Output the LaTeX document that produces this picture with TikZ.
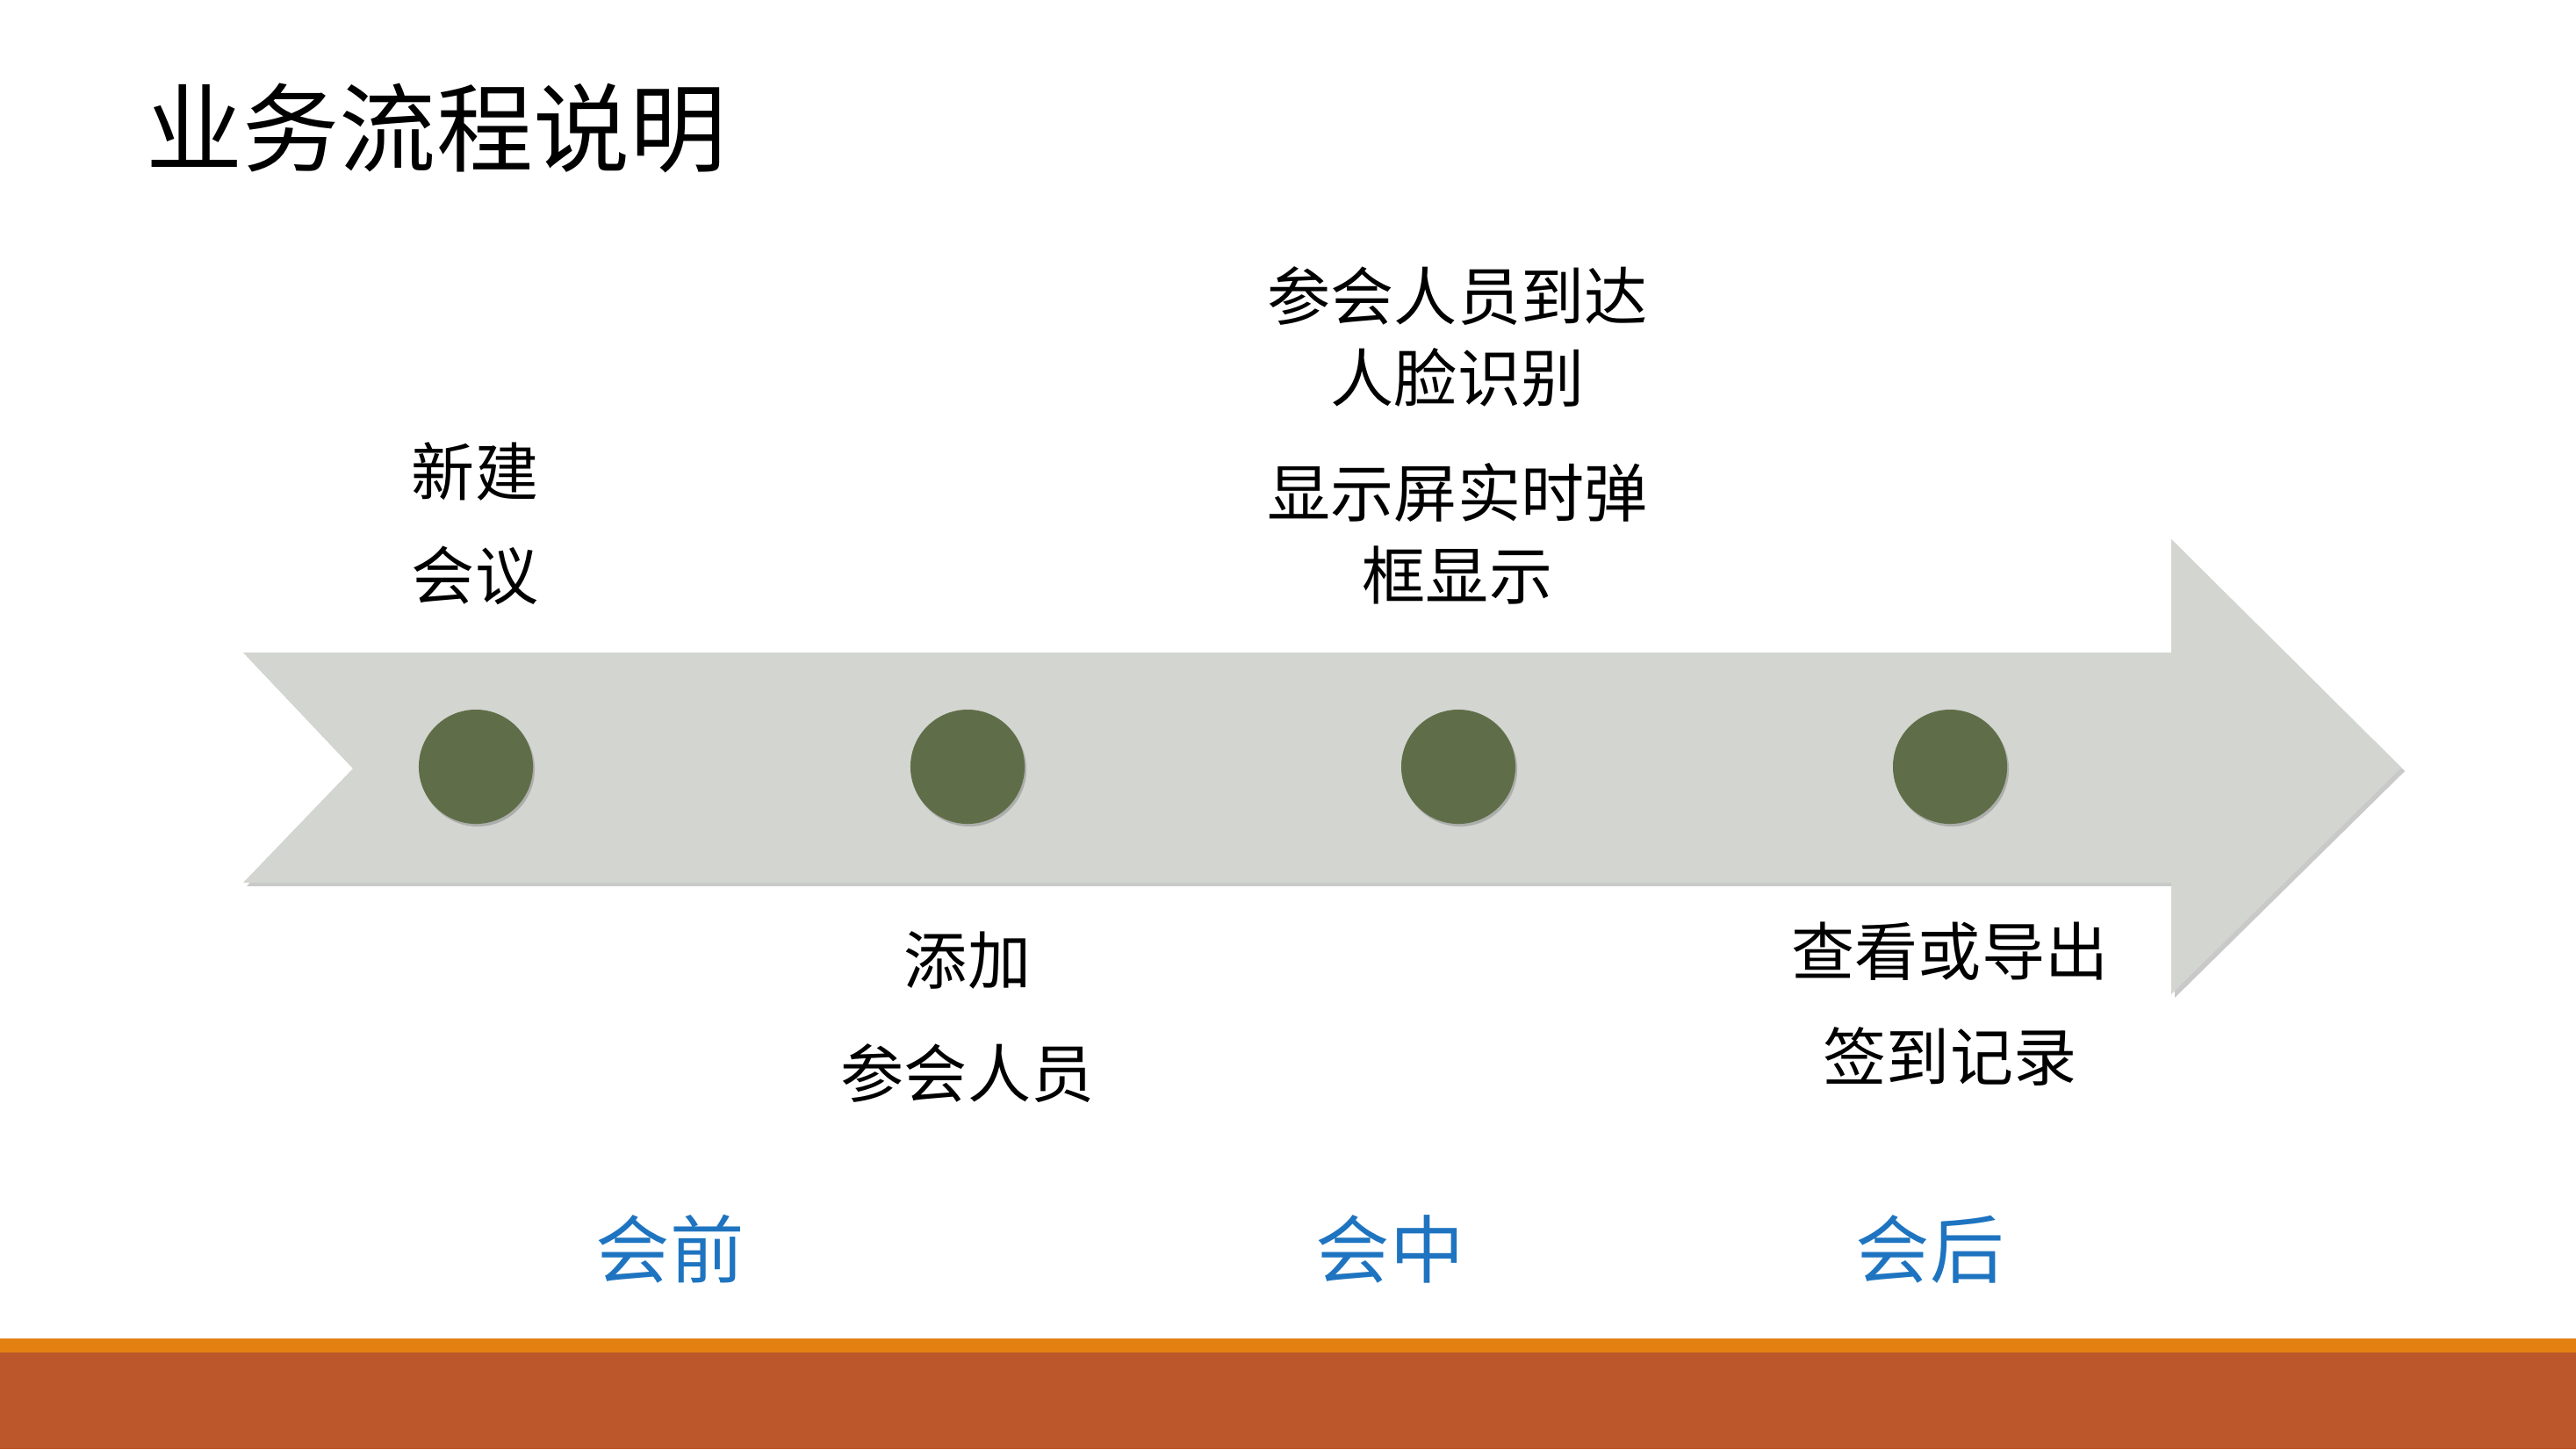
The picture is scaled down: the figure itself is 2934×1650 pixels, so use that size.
\documentclass[tikz,border=0pt]{standalone}
\usepackage{fontspec}
\setmainfont{Liberation Serif}
\newfontfamily\cjk{Noto Sans CJK SC}
\usetikzlibrary{shadows}
\definecolor{arrowgray}{HTML}{D3D5D0}
\definecolor{dotgreen}{HTML}{5F6E48}
\definecolor{barorange}{HTML}{E38012}
\definecolor{barrust}{HTML}{BC572B}
\definecolor{phaseblue}{HTML}{1E74C0}
\tikzset{
  lbl/.style={font=\cjk\fontsize{20.5}{24}\selectfont, text=black, inner sep=0pt, anchor=center},
  phase/.style={font=\cjk\fontsize{24}{28}\selectfont, text=phaseblue, inner sep=0pt, anchor=center},
  dot/.style={circle, fill=dotgreen, minimum size=1.3cm, inner sep=0pt,
     drop shadow={shadow xshift=0.02cm, shadow yshift=-0.03cm, opacity=0.35, fill=black!60}},
}
\begin{document}
\begin{tikzpicture}[x=0.01cm,y=-0.01cm]
\useasboundingbox (0,0) rectangle (2934,1650);
\fill[white] (0,0) rectangle (2934,1650);
% bottom bars
\fill[barorange] (0,1524) rectangle (2934,1541);
\fill[barrust] (0,1540) rectangle (2934,1650);
% title
\node[font=\cjk\fontsize{31.3}{36}\selectfont, inner sep=0pt, anchor=center] (title) at (497,146) {业务流程说明};
% arrow shadow
\fill[black!35, opacity=0.6] (281,747) -- (2477,747) -- (2477,618) -- (2739,878) -- (2477,1136) -- (2477,1009) -- (281,1009) -- (406,879) -- cycle;
% arrow
\fill[arrowgray] (277,743) -- (2473,743) -- (2473,614) -- (2735,874) -- (2473,1132) -- (2473,1005) -- (277,1005) -- (402,875) -- cycle;
% dots
\node[dot] (d1) at (542,873) {};
\node[dot] (d2) at (1102,873) {};
\node[dot] (d3) at (1661,873) {};
\node[dot] (d4) at (2221,873) {};
% labels
\node[lbl] (a1) at (541,537) {新建};
\node[lbl] (a2) at (541,655) {会议};
\node[lbl] (c1) at (1660,337) {参会人员到达};
\node[lbl] (c2) at (1660,430) {人脸识别};
\node[lbl] (c3) at (1660,561) {显示屏实时弹};
\node[lbl] (c4) at (1660,655) {框显示};
\node[lbl] (b1) at (1102,1093) {添加};
\node[lbl] (b2) at (1102,1222) {参会人员};
\node[lbl] (e1) at (2221,1083) {查看或导出};
\node[lbl] (e2) at (2221,1203) {签到记录};
% phases
\node[phase] (p1) at (763,1422) {会前};
\node[phase] (p2) at (1583,1422) {会中};
\node[phase] (p3) at (2198,1422) {会后};
\end{tikzpicture}
\end{document}
